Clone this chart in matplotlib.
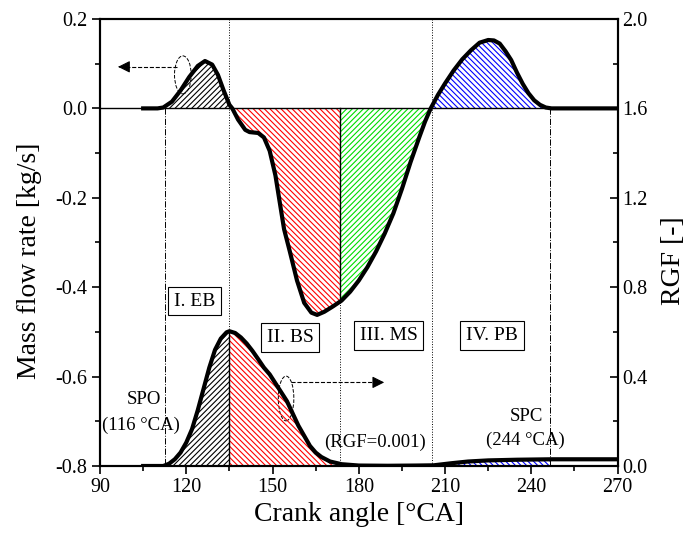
import numpy as np
import matplotlib
matplotlib.use('Agg')
import matplotlib.pyplot as plt
from matplotlib.patches import Ellipse
from matplotlib.ticker import MultipleLocator, FormatStrFormatter

plt.rcParams['font.family'] = 'Liberation Serif'
plt.rcParams['axes.unicode_minus'] = False
plt.rcParams['hatch.linewidth'] = 0.8

# mass flow rate [kg/s] vs crank angle [deg CA]
ca_m = [105, 110, 112, 115, 118, 121, 124, 126.5, 129, 131, 133, 135, 136, 138, 140.5,
        142, 145, 147, 149, 151, 152.5, 154, 156, 158.5, 161, 163.5, 165.5, 168, 171,
        174, 177, 180, 183, 186, 189, 192, 195, 198, 201, 203, 205, 207.5, 210, 213,
        216, 219, 222, 225, 227, 229, 231, 233, 235, 237, 239, 241, 243, 245, 247, 270]
mflow = [0, 0, 0.002, 0.015, 0.04, 0.07, 0.095, 0.106, 0.098, 0.075, 0.04, 0.008, 0,
         -0.025, -0.048, -0.053, -0.055, -0.065, -0.095, -0.15, -0.21, -0.27, -0.32,
         -0.385, -0.435, -0.457, -0.462, -0.455, -0.443, -0.43, -0.41, -0.385, -0.355,
         -0.32, -0.28, -0.235, -0.18, -0.12, -0.065, -0.03, 0, 0.03, 0.056, 0.085, 0.11,
         0.13, 0.147, 0.153, 0.152, 0.145, 0.128, 0.108, 0.08, 0.055, 0.034, 0.018,
         0.008, 0.002, 0, 0]

# residual gas fraction [-]
ca_r = [105, 112, 114, 116, 118, 120, 122, 124, 126, 128, 130, 132, 134, 135, 137, 139,
        141, 143, 145, 147, 149, 151, 153, 155, 157, 159, 161, 163, 165, 167, 170, 174,
        180, 190, 200, 206, 212, 218, 225, 235, 247, 270]
rgf = [0, 0, 0.01, 0.03, 0.06, 0.105, 0.165, 0.25, 0.345, 0.44, 0.52, 0.57, 0.598, 0.603,
       0.595, 0.575, 0.548, 0.515, 0.478, 0.44, 0.41, 0.37, 0.33, 0.29, 0.235, 0.18,
       0.135, 0.09, 0.06, 0.04, 0.02, 0.008, 0.002, 0.001, 0.002, 0.003, 0.012, 0.02,
       0.025, 0.028, 0.03, 0.03]

# phase boundaries
spo = 112.5
b1 = 135
b2 = 173.5
b3 = 205.5
spc = 246.5

ca_m = np.array(ca_m)
mflow = np.array(mflow)
ca_r = np.array(ca_r)
rgf = np.array(rgf)

fig = plt.figure(figsize=(6.87, 5.35), dpi=100)
ax = fig.add_axes([0.1456, 0.129, 0.7534, 0.8355])
ax2 = ax.twinx()

# fine grid for fills
xm = np.linspace(105, 270, 2000)
ym = np.interp(xm, ca_m, mflow)
yr = np.interp(xm, ca_r, rgf)

def hfill(a, x, y, lo, hi, col, hatch):
    m = (x >= lo) & (x <= hi)
    a.fill_between(x[m], 0, y[m], facecolor='none', edgecolor=col, hatch=hatch, lw=0)

hfill(ax, xm, ym, spo, b1, 'k', '//////')
hfill(ax, xm, ym, b1, b2, 'red', '\\\\\\\\\\\\')
hfill(ax, xm, ym, b2, b3, '#00dd00', '//////')
hfill(ax, xm, ym, b3, spc, 'blue', '\\\\\\\\\\\\')
hfill(ax2, xm, yr, spo, b1, 'k', '//////')
hfill(ax2, xm, yr, b1, b2, 'red', '\\\\\\\\\\\\')
hfill(ax2, xm, yr, b3, spc, 'blue', '\\\\\\\\\\\\')

ax.axhline(0, color='k', lw=1)
ax.plot(ca_m, mflow, color='k', lw=3, zorder=5)
ax2.plot(ca_r, rgf, color='k', lw=3, zorder=5)

# boundary lines
ax.plot([spo, spo], [0, -0.8], color='k', lw=0.7, ls='-.')
ax.plot([spc, spc], [0, -0.8], color='k', lw=0.7, ls='-.')
ax.plot([b1, b1], [0.2, -0.8], color='k', lw=0.7, ls=':')
ax.plot([b3, b3], [0.2, -0.8], color='k', lw=0.7, ls=':')
m_b2 = np.interp(b2, ca_m, mflow)
ax.plot([b2, b2], [0, m_b2], color='k', lw=1)
ax.plot([b2, b2], [m_b2, -0.8], color='k', lw=0.7, ls=':')
r_b1 = np.interp(b1, ca_r, rgf)
ax2.plot([b1, b1], [0, r_b1], color='k', lw=1)

# region labels
box = dict(boxstyle='square,pad=0.3', fc='white', ec='k', lw=0.8)
ax.text(122.9, -0.431, 'I. EB', fontsize=14, ha='center', va='center', bbox=box, zorder=6)
ax.text(156.1, -0.512, 'II. BS', fontsize=14, ha='center', va='center', bbox=box, zorder=6)
ax.text(190.4, -0.508, 'III. MS', fontsize=14, ha='center', va='center', bbox=box, zorder=6)
ax.text(226.3, -0.508, 'IV. PB', fontsize=14, ha='center', va='center', bbox=box, zorder=6)

ax.text(105.2, -0.652, 'SPO', fontsize=13.5, ha='center', va='center')
ax.text(104.4, -0.708, '(116 °CA)', fontsize=13.5, ha='center', va='center')
ax.text(185.5, -0.746, '(RGF=0.001)', fontsize=13.5, ha='center', va='center')
ax.text(238.3, -0.689, 'SPC', fontsize=13.5, ha='center', va='center')
ax.text(237.8, -0.743, '(244 °CA)', fontsize=13.5, ha='center', va='center')

# axis-pointing arrows
ax.add_patch(Ellipse((118.8, 0.075), 5.8, 0.085, fill=False, ls='--', lw=0.7, ec='k'))
ax.plot([116.6, 97.5], [0.093, 0.093], color='k', lw=0.8, ls='--')
ax.annotate('', xy=(95.3, 0.093), xytext=(98, 0.093),
            arrowprops=dict(arrowstyle='-|>', color='k', lw=0.8, mutation_scale=18))
ax.add_patch(Ellipse((154.7, -0.649), 5.4, 0.1, fill=False, ls='--', lw=0.7, ec='k'))
ax.plot([156.4, 187], [-0.613, -0.613], color='k', lw=0.8, ls='--')
ax.annotate('', xy=(189.8, -0.613), xytext=(187, -0.613),
            arrowprops=dict(arrowstyle='-|>', color='k', lw=0.8, mutation_scale=18))

ax.set_xlim(90, 270)
ax.set_ylim(-0.8, 0.2)
ax2.set_ylim(0, 2.0)
ax.xaxis.set_major_locator(MultipleLocator(30))
ax.xaxis.set_minor_locator(MultipleLocator(15))
ax.yaxis.set_major_locator(MultipleLocator(0.2))
ax.yaxis.set_minor_locator(MultipleLocator(0.1))
ax.yaxis.set_major_formatter(FormatStrFormatter('%.1f'))
ax2.yaxis.set_major_locator(MultipleLocator(0.4))
ax2.yaxis.set_minor_locator(MultipleLocator(0.2))
ax2.yaxis.set_major_formatter(FormatStrFormatter('%.1f'))

ax.tick_params(axis='both', which='both', direction='out', labelsize=14.5, width=1.2)
ax.tick_params(which='major', length=5.5)
ax.tick_params(which='minor', length=3.5)
ax.tick_params(top=False)
ax2.tick_params(axis='y', which='both', direction='in', labelsize=14.5, width=1.2)
ax2.tick_params(which='major', length=5.5)
ax2.tick_params(which='minor', length=3.5)
for a in (ax, ax2):
    for s in a.spines.values():
        s.set_linewidth(1.5)

ax.set_xlabel('Crank angle [°CA]', fontsize=20, labelpad=3)
ax.set_ylabel('Mass flow rate [kg/s]', fontsize=20)
ax.yaxis.set_label_coords(-0.112, 0.459)
ax2.set_ylabel('RGF [-]', fontsize=20)
ax2.yaxis.set_label_coords(1.083, 0.459)

fig.savefig('out.png', dpi=100)
